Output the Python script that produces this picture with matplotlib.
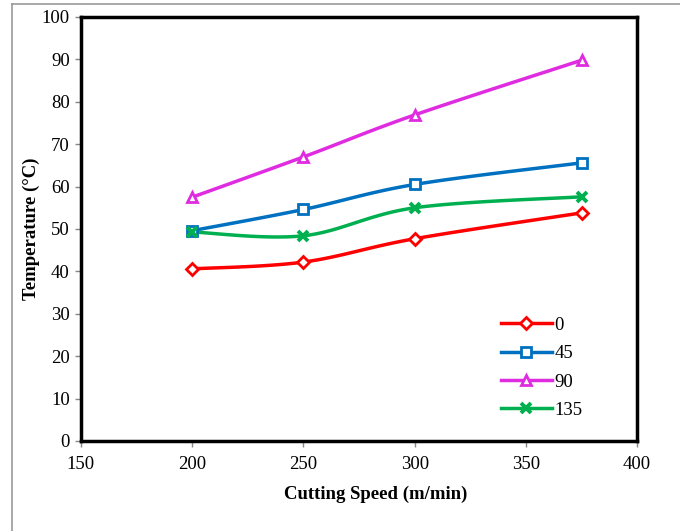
import matplotlib
matplotlib.use("Agg")
import matplotlib.pyplot as plt
from matplotlib.lines import Line2D
import numpy as np

plt.rcParams["font.family"] = ["Liberation Serif", "DejaVu Serif"]

# cutting speed (m/min) and temperature (C) for each angle
speed = [200, 250, 300, 375]
temp_0 = [40.6, 42.2, 47.7, 53.8]
temp_45 = [49.6, 54.6, 60.5, 65.6]
temp_90 = [57.5, 67.0, 76.9, 89.8]
temp_135 = [49.3, 48.4, 55.0, 57.6]

labels = ["0", "45", "90", "135"]
colors = ["#FF0000", "#0070C0", "#E02CE0", "#00B050"]
markers = ["D", "s", "^", "X"]


def smooth(x, y, n=30):
    # excel-like smoothed line: bezier through the points
    x = np.asarray(x, float)
    y = np.asarray(y, float)
    px = np.concatenate([[x[0]], x, [x[-1]]])
    py = np.concatenate([[y[0]], y, [y[-1]]])
    xs, ys = [], []
    t = np.linspace(0, 1, n)
    for i in range(1, len(px) - 2):
        p0 = np.array([px[i], py[i]])
        p3 = np.array([px[i + 1], py[i + 1]])
        c1 = p0 + (p3 - np.array([px[i - 1], py[i - 1]])) / 6
        c2 = p3 - (np.array([px[i + 2], py[i + 2]]) - p0) / 6
        b = ((1 - t) ** 3)[:, None] * p0 + (3 * (1 - t) ** 2 * t)[:, None] * c1 \
            + (3 * (1 - t) * t ** 2)[:, None] * c2 + (t ** 3)[:, None] * p3
        xs.extend(b[:, 0])
        ys.extend(b[:, 1])
    return xs, ys


fig = plt.figure(figsize=(6.8, 5.31), dpi=100)
ax = fig.add_axes([0.119, 0.1695, 0.818, 0.7985])

handles = []
for yv, lab, c, m in zip([temp_0, temp_45, temp_90, temp_135], labels, colors, markers):
    sx, sy = smooth(speed, yv)
    ax.plot(sx, sy, color=c, lw=2.5, zorder=3)
    if m == "X":
        kw = dict(marker="x", ms=6.5, mew=2.8, mec=c)
    else:
        ms = 7.5 if m == "^" else 6.5
        kw = dict(marker=m, ms=ms, mew=2, mfc="white", mec=c)
    ax.plot(speed, yv, ls="none", color=c, zorder=4, **kw)
    handles.append(Line2D([], [], color=c, lw=2.5, **kw))

ax.set_xlim(150, 400)
ax.set_ylim(0, 100)
ax.set_xticks(range(150, 401, 50))
ax.set_yticks(range(0, 101, 10))
ax.tick_params(direction="out", length=4, width=1, color="#888888",
               labelsize=13.5)
ax.tick_params(axis="x", pad=7)
ax.tick_params(axis="y", pad=4)
for s in ax.spines.values():
    s.set_linewidth(2.5)
    s.set_color("black")

ax.set_xlabel("Cutting Speed (m/min)", fontsize=13.5, fontweight="bold")
ax.set_ylabel("Temperature (°C)", fontsize=13.5, fontweight="bold")
ax.xaxis.set_label_coords(0.53, -0.105)
ax.yaxis.set_label_coords(-0.074, 0.5)

ax.legend(handles, labels, loc="lower left", bbox_to_anchor=(0.725, 0.012),
          frameon=False, fontsize=13.5, handlelength=2.7, handletextpad=0.15,
          labelspacing=0.6)

# outer chart border (gray)
fig.add_artist(Line2D([12 / 680, 12 / 680], [0, 1 - 4 / 531], color="#999999",
                      lw=1.2, transform=fig.transFigure))
fig.add_artist(Line2D([12 / 680, 1], [1 - 4 / 531, 1 - 4 / 531], color="#999999",
                      lw=1.2, transform=fig.transFigure))

fig.savefig("out.png", dpi=100)
